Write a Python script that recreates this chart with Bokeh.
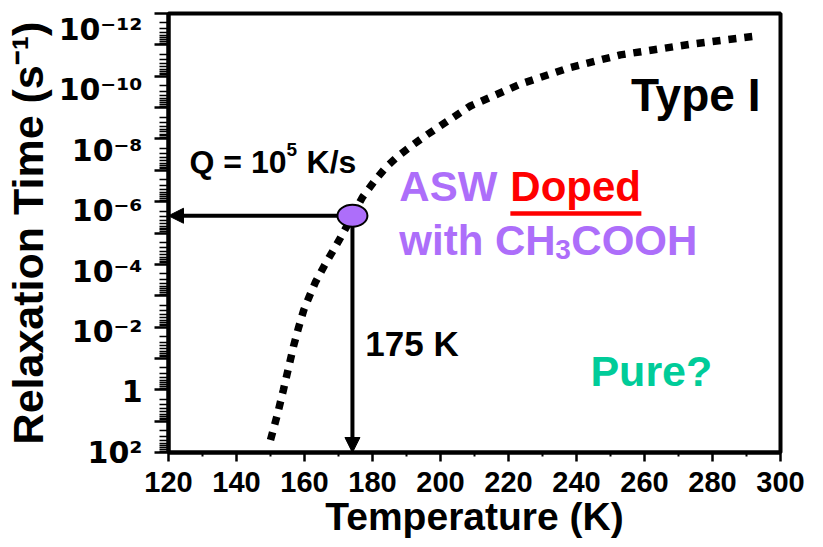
import math
from bokeh.plotting import figure
from bokeh.models import (Range1d, FixedTicker, Label, Arrow, NormalHead, LogAxis, LogScale)
from bokeh.embed import file_html
from bokeh.resources import INLINE

FONT = "Liberation Sans"
TICK_FONT = "DejaVu Sans"
PURPLE = "#AD6EFA"
RED = "#FF0000"
TEAL = "#00CC99"

# ---- data ----
temperature_K = [150.0, 152.0, 153.8, 155.3, 156.8, 158.3, 159.8, 161.5, 163.3, 165.8,
                 168.2, 170.6, 174.1, 177.1, 180.9, 184.0, 187.5, 191.5, 195.3, 199.0,
                 208.8, 223.5, 238.2, 252.9, 273.5, 292.1]
log10_tau = [1.6, 0.8, 0.0, -0.7, -1.4, -2.0, -2.55, -3.0, -3.45, -3.95,
             -4.4, -4.85, -5.55, -6.15, -6.7, -7.1, -7.45, -7.78, -8.08, -8.35,
             -9.05, -9.75, -10.28, -10.68, -11.02, -11.27]
tau = [10.0 ** v for v in log10_tau]

point_T = [174.1]
point_log_tau = [-5.55]
point_tau = [10.0 ** v for v in point_log_tau]

x_ticks = [120, 140, 160, 180, 200, 220, 240, 260, 280, 300]
x_minor = [130, 150, 170, 190, 210, 230, 250, 270, 290]
y_decades = list(range(-12, 3))
y_major = [10.0 ** e for e in y_decades]
y_minor = [k * 10.0 ** e for e in y_decades[:-1] for k in range(2, 10)]

ytick_vals = [1e-12, 1e-10, 1e-8, 1e-6, 1e-4, 1e-2, 1.0, 1e2]
ytick_text = ["10\u207b\u00b9\u00b2", "10\u207b\u00b9\u2070", "10\u207b\u2078", "10\u207b\u2076",
              "10\u207b\u2074", "10\u207b\u00b2", "1", "10\u00b2"]

PX_PER_K = 612 / 180.0

p = figure(width=823, height=547,
           x_range=Range1d(120, 300), y_range=Range1d(1e2, 1e-12),
           y_axis_type="log", output_backend="svg", toolbar_location=None,
           min_border_left=168, min_border_right=43, min_border_top=13, min_border_bottom=95)
p.grid.visible = False
p.background_fill_color = "white"
p.border_fill_color = "white"
p.outline_line_color = "black"
p.outline_line_width = 4

# ---- x axis ----
xa = p.xaxis[0]
xa.ticker = FixedTicker(ticks=x_ticks, minor_ticks=x_minor)
xa.axis_line_width = 4
xa.major_tick_line_width = 2.5
xa.minor_tick_line_width = 2
xa.major_tick_in = 0
xa.major_tick_out = 9
xa.minor_tick_in = 0
xa.minor_tick_out = 4
xa.major_label_text_font = FONT
xa.major_label_text_font_style = "bold"
xa.major_label_text_font_size = "29px"
xa.major_label_text_color = "black"
xa.major_label_standoff = 10
xa.axis_label = "Temperature (K)"
xa.axis_label_text_font = FONT
xa.axis_label_text_font_style = "bold"
xa.axis_label_text_font_size = "39px"
xa.axis_label_text_color = "black"
xa.axis_label_standoff = 0

# ---- y axis: ticks on the data scale ----
ya = p.yaxis[0]
ya.ticker = FixedTicker(ticks=y_major, minor_ticks=y_minor)
ya.major_label_overrides = {v: "" for v in y_major}
ya.major_label_text_font_size = "1px"
ya.major_label_standoff = 0
ya.axis_line_width = 4
ya.major_tick_line_width = 2.5
ya.minor_tick_line_width = 1.5
ya.major_tick_in = 0
ya.major_tick_out = 14
ya.minor_tick_in = 0
ya.minor_tick_out = 9

# ---- y axis labels (drawn a little below their ticks, as in the original) ----
p.extra_y_ranges = {"ylab": Range1d(10 ** 2.007, 10 ** -12.53)}
p.extra_y_scales = {"ylab": LogScale()}
la = LogAxis(y_range_name="ylab", ticker=FixedTicker(ticks=ytick_vals, minor_ticks=[]))
la.major_label_overrides = dict(zip(ytick_vals, ytick_text))
la.axis_line_color = None
la.major_tick_line_color = None
la.minor_tick_line_color = None
la.major_tick_out = 0
la.major_tick_in = 0
la.minor_tick_out = 0
la.minor_tick_in = 0
la.major_label_text_font = TICK_FONT
la.major_label_text_font_style = "bold"
la.major_label_text_font_size = "30px"
la.major_label_text_color = "black"
la.major_label_standoff = 12
la.axis_label = "Relaxation Time (s\u207b\u00b9)"
la.axis_label_text_font = FONT
la.axis_label_text_font_style = "bold"
la.axis_label_text_font_size = "43px"
la.axis_label_text_color = "black"
la.axis_label_standoff = 4
p.add_layout(la, "left")


def lab(x, y, text, size, color="black", align="left", dx=0, dy=0):
    p.add_layout(Label(x=x, y=y, x_offset=dx, y_offset=dy, text=text,
                       text_font=FONT, text_font_style="bold",
                       text_font_size=f"{size}px", text_color=color,
                       text_align=align, text_baseline="alphabetic"))


# arrows (under the marker)
p.add_layout(Arrow(end=NormalHead(size=15, fill_color="black", line_color="black"),
                   x_start=point_T[0], y_start=point_tau[0], x_end=120, y_end=point_tau[0],
                   line_width=4, line_color="black", level="underlay"))
p.add_layout(Arrow(end=NormalHead(size=15, fill_color="black", line_color="black"),
                   x_start=point_T[0], y_start=point_tau[0], x_end=point_T[0], y_end=1e2,
                   line_width=4, line_color="black", level="underlay"))

# dotted curve
p.line(temperature_K, tau, line_color="black", line_width=7.5, line_dash="8 8", line_cap="butt")

# marker
p.ellipse(x=point_T, y=point_tau, width=30, height=22, width_units="screen",
          height_units="screen", fill_color=PURPLE, line_color="black", line_width=2)

# annotations (dy includes the correction between requested and drawn baseline)
lab(294.1, 10 ** -8.81, "Type I", 46, align="right", dy=19)

q_T, q_L, q_r = 126.2, -6.83, 14
lab(q_T, 10 ** q_L, "Q = 10", 32, dy=q_r)
lab(q_T, 10 ** q_L, "5", 19, dx=97, dy=q_r + 12)
lab(q_T, 10 ** q_L, "K/s", 32, dx=117, dy=q_r)

a_T, a_L, a_r = 187.9, -5.94, 17
lab(a_T, 10 ** a_L, "ASW", 42, color=PURPLE, dy=a_r)
lab(a_T, 10 ** a_L, "Doped", 42, color=RED, dx=111, dy=a_r)
ul_L = -5.62
p.segment(x0=[a_T + 111 / PX_PER_K], y0=[10 ** ul_L], x1=[a_T + 242 / PX_PER_K], y1=[10 ** ul_L],
          line_color=RED, line_width=4.5)

w_T, w_L, w_r = 187.9, -4.31, 14
lab(w_T, 10 ** w_L, "with CH", 42, color=PURPLE, dy=w_r)
lab(w_T, 10 ** w_L, "3", 28, color=PURPLE, dx=156, dy=w_r - 9)
lab(w_T, 10 ** w_L, "COOH", 42, color=PURPLE, dx=172, dy=w_r)

lab(177.9, 10 ** -1.06, "175 K", 35, dy=13)
lab(244.1, 10 ** -0.07, "Pure?", 43, color=TEAL, dy=17)

open("out.html", "w").write(file_html(p, INLINE))
